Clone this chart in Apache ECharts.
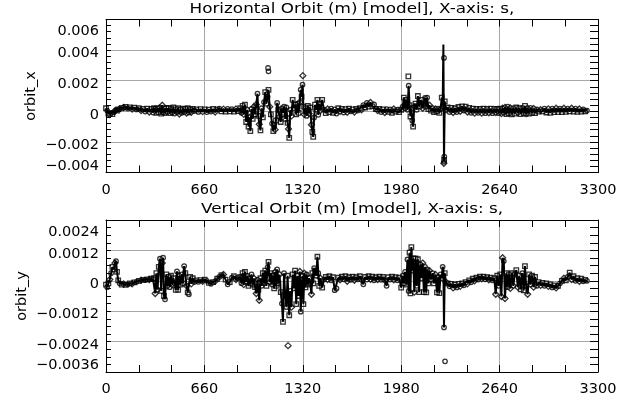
<!DOCTYPE html>
<html><head><meta charset="utf-8">
<script src="https://cdn.jsdelivr.net/npm/echarts@6/dist/echarts.min.js"></script>
<style>html,body{margin:0;padding:0;background:#fff}#c{width:640px;height:409px}</style>
</head><body><div id="c"></div>
<script>
// ---------- data (orbit values in mm, converted to m for plotting) ----------
const sPos = [
0,8,16,25,34,43,52,60,67,74,
82,92,105,118,132,146,160,175,190,205,
220,235,250,263,276,290,303,316,322,
330,338,346,354,362,370,377,383,389,396,
404,412,420,428,436,444,452,460,468,476,
484,492,500,508,516,524,532,540,548,556,
564,572,582,592,
606,620,634,648,662,676,690,704,718,732,
746,760,774,788,802,816,830,844,858,872,886,
900,908,916,924,932,940,948,956,962,968,
976,984,992,1000,1008,1016,1022,1028,1036,1044,
1052,1060,1068,1076,1084,1090,1098,1106,1114,1122,
1128,1134,1140,1148,1156,1164,1172,1180,1187,1194,
1202,1210,1218,1224,1229,1236,1244,1252,1260,1268,
1276,1284,1292,1300,1306,1312,1318,1324,1330,1338,
1346,1354,1362,1370,1378,1384,1390,1396,1402,1410,
1418,1424,1430,1438,
1450,1462,1474,1486,1498,1510,1522,1534,1546,1558,
1570,1582,1594,1606,1618,1630,1642,1654,1666,1678,
1690,1702,1714,1726,1738,1750,1762,1774,1786,1798,
1810,1822,1834,1846,1858,1870,1882,1894,1906,1918,
1930,1942,1954,1966,
1980,1990,1998,2006,2014,2022,2030,2036,2042,2048,
2054,2060,2068,2076,2084,2092,2100,2108,2116,2124,
2132,2140,2148,2154,2162,2170,2180,2190,2200,2210,
2220,2228,2236,2244,2252,2258,2263,2267,2272,2280,
2292,2304,2316,2328,2340,2352,2364,2376,2388,2400,
2412,2424,2436,2448,2460,2472,2484,2496,2508,2520,
2532,2544,2556,2568,2580,2592,2604,2614,2624,2634,
2644,2652,2660,2668,2676,2686,2694,2702,2712,2722,
2732,2742,2752,2762,2772,2782,2792,2802,2810,2818,
2828,2838,2848,2858,2868,2878,2890,2902,2915,2928,
2941,2954,2967,2980,2993,3006,3019,3032,3045,3058,
3071,3084,3097,3110,3123,3136,3149,3162,3175,3188,
3201,3214,3226
];
const orbitXmm = [
0.20,0.05,-0.15,-0.22,-0.10,-0.18,-0.05,0.02,0.08,0.05,
0.12,0.15,0.22,0.25,0.28,0.18,0.26,0.15,0.24,0.12,
0.20,0.05,0.15,-0.02,0.18,-0.05,0.15,-0.08,0.20,
0.15,-0.10,0.20,-0.05,0.25,-0.15,0.40,-0.08,0.18,-0.12,
0.20,-0.05,0.22,-0.12,0.15,-0.08,0.25,-0.15,0.12,-0.05,
0.20,-0.18,0.10,-0.10,0.18,-0.05,0.15,-0.12,0.20,-0.08,
0.12,-0.06,0.15,0.02,
0.12,-0.04,0.14,-0.02,0.12,-0.05,0.10,-0.02,0.15,-0.05,
0.12,0.18,0.00,0.14,-0.02,0.16,0.00,0.14,-0.02,0.15,0.02,
0.20,-0.10,0.35,-0.20,0.43,-0.70,0.10,-1.00,-0.40,-1.30,
0.15,-0.50,0.30,-0.20,0.45,1.15,-0.30,-0.85,-1.25,0.20,
-0.40,0.60,1.25,0.50,0.95,1.40,0.30,-0.20,-0.80,-1.30,
-0.90,-1.20,-0.60,0.55,0.10,-0.36,-0.70,0.20,-0.10,0.30,
-0.50,0.25,-0.75,-1.15,-1.74,0.10,-0.30,0.75,0.20,0.43,
-0.20,0.50,-0.10,0.60,1.41,0.95,1.74,0.30,-0.20,0.20,
-0.30,0.35,-0.15,0.25,-0.88,-1.34,-1.67,-0.40,0.43,0.10,
0.75,-0.23,0.50,0.05,
0.75,0.10,-0.12,0.15,-0.05,0.18,-0.10,0.12,-0.15,0.20,
0.00,0.16,-0.08,0.14,-0.06,0.18,0.00,0.12,-0.05,0.15,
0.05,0.20,0.10,0.40,0.25,0.55,0.30,0.58,0.32,0.45,
0.15,0.05,0.15,-0.05,0.12,-0.08,0.14,-0.04,0.12,-0.10,
0.15,-0.02,0.10,-0.05,
0.10,0.30,0.89,0.20,0.75,0.10,1.67,0.40,-0.34,0.20,
-0.60,-1.00,0.30,0.50,0.10,1.00,0.30,0.55,0.75,0.20,
0.50,0.87,0.30,0.90,0.15,0.40,0.05,0.20,-0.05,0.15,
0.00,0.18,-0.10,0.15,0.90,0.30,4.36,-3.29,0.65,0.10,
0.25,-0.05,0.22,-0.08,0.20,-0.05,0.28,0.00,0.32,0.05,
0.30,-0.05,0.22,-0.10,0.18,-0.12,0.15,-0.10,0.15,-0.12,
0.18,-0.12,0.15,-0.10,0.18,-0.12,0.15,-0.08,0.15,-0.12,
0.18,-0.15,0.20,-0.10,0.25,-0.18,0.31,-0.12,0.22,-0.20,
0.20,-0.15,0.25,-0.10,0.20,-0.18,0.22,-0.12,0.36,-0.20,
0.20,-0.15,0.22,-0.10,0.18,-0.12,0.12,-0.02,0.10,0.00,
0.18,-0.08,0.16,-0.10,0.18,-0.06,0.20,-0.05,0.18,-0.05,
0.20,-0.04,0.18,0.00,0.20,-0.02,0.18,-0.04,0.15,-0.02,
0.12,0.00,0.05
];
const orbitYmm = [
-0.15,-0.25,-0.10,0.05,0.30,0.55,0.45,0.70,0.78,0.35,
0.02,-0.10,-0.15,-0.12,-0.16,-0.14,-0.10,-0.12,-0.06,-0.04,
0.00,0.02,0.04,0.03,0.06,0.05,0.08,0.06,0.10,
-0.50,0.30,-0.35,0.55,0.87,-0.40,0.70,0.91,-0.60,-0.73,
0.25,-0.20,0.15,-0.25,0.20,-0.15,0.10,-0.10,-0.36,0.37,
-0.36,0.20,-0.15,0.25,-0.10,0.58,0.30,-0.20,-0.46,-0.53,
0.15,-0.12,0.10,-0.05,
0.02,-0.04,0.03,-0.02,0.05,0.00,-0.08,-0.12,-0.05,-0.02,
0.08,0.15,0.22,0.25,0.05,-0.14,-0.05,0.12,0.18,0.05,0.10,
0.15,-0.10,0.30,-0.15,0.35,-0.05,0.20,-0.20,0.10,-0.10,
0.25,-0.15,0.10,-0.25,-0.50,0.05,-0.35,-0.77,0.10,-0.20,
0.30,-0.10,0.40,-0.20,0.53,0.75,-0.05,0.30,-0.15,0.20,
-0.30,0.35,-0.20,0.45,-0.10,0.25,-0.45,-0.90,-1.62,0.30,
-0.55,-1.04,0.20,-0.80,-1.36,-0.40,-1.04,0.25,-0.30,0.40,
-0.92,0.20,-0.60,0.37,-1.22,-0.20,0.20,-0.92,0.30,-0.26,
0.25,-0.15,0.10,-0.10,-0.53,0.30,-0.10,0.50,0.40,0.20,
0.95,0.30,-0.20,0.10,
-0.27,0.05,0.15,0.05,0.18,0.02,0.14,-0.37,-0.30,0.12,
0.04,0.16,0.06,0.18,-0.02,0.14,0.04,0.16,0.02,0.14,
0.06,0.18,0.04,-0.14,0.15,0.05,0.18,0.06,0.16,0.02,
0.14,0.05,0.16,0.04,0.15,0.02,-0.20,0.14,0.05,0.16,
0.04,0.14,0.02,0.12,
-0.27,0.20,-0.10,0.35,-0.15,0.84,-0.40,1.11,-0.50,1.33,
0.40,0.88,-0.45,0.88,-0.20,0.85,-0.45,0.65,0.10,0.70,
-0.45,0.55,-0.46,0.45,-0.10,0.40,0.05,0.30,-0.10,0.25,
-0.46,0.15,-0.49,0.25,0.10,0.55,0.45,-1.84,0.30,-0.05,
-0.10,-0.22,-0.12,-0.28,-0.15,-0.26,-0.12,-0.22,-0.10,-0.18,
-0.05,-0.12,0.02,-0.06,0.08,0.00,0.12,0.05,0.16,0.08,
0.16,0.06,0.14,0.04,0.12,0.02,0.10,-0.53,0.20,-0.20,
0.25,-0.62,0.91,0.78,-0.70,0.30,-0.25,0.25,-0.30,0.30,
-0.20,0.25,0.42,-0.25,0.20,-0.34,0.30,-0.38,0.58,-0.20,
-0.53,0.25,-0.15,0.20,-0.25,0.15,-0.20,-0.05,-0.18,-0.08,
-0.20,-0.10,-0.22,-0.14,-0.26,-0.18,-0.28,-0.20,-0.10,0.00,
0.10,0.02,0.15,0.32,0.05,0.18,0.00,0.10,-0.02,0.08,
-0.02,0.04,0.00
];
// element marker type per point: r = square, c = circle, d = diamond, n = none
const elemType = [
"rcrdcrcdcr","rcrdrcrdrc","rdrcrdrcr","drcrcrdcrc","rdrcrdrcrc","rdrcrcrdrc","rdrc",
"rcrdrcrcrd","rcrdrcrcrdr",
"rcrdrrcrdr","crdrdcrdrc","rcrrcrdrcr","rdrcrdrcrc","rcrdrcdrcr","rcrdcrcrdr","crdrdrrcrc","rcrd",
"rcrdrcrccr","drcrdrcrdr","crdcrcrdrc","rdrcrdcrcr","drcr",
"rcrcrccrrr","crdrcrrcrd","rcrcrdrcrd","rcrcrcncrd",
"rcrdrcrdrc","rdrcrdrcrd","rcrdrcrdrc","rddcdrcrdr","crrdrrcrrc","drcrdrcrdr","crdrcrdrcr","drcrdrcrdr","crc"
].join('');
// isolated markers (not on the line)
const looseXs = [1087,1090,1320,2028,2267,2269,2268,2266];
const looseXmm = [2.83,2.61,2.33,2.28,3.49,-2.96,-3.18,-3.40];
const looseXt = "ccdrccrd";
const looseYs = [1221,2274];
const looseYmm = [-2.56,-3.18];
const looseYt = "dc";
// axis tick labels
const sTickLabels = ["0","660","1320","1980","2640","3300"];
const xTickLabels = ["\u22120.004","\u22120.002","0","0.002","0.004","0.006"];
const yTickLabels = ["\u22120.0036","\u22120.0024","\u22120.0012","0","0.0012","0.0024"];
const titles = ["Horizontal Orbit (m) [model], X-axis: s,", "Vertical Orbit (m) [model], X-axis: s,"];
const yNames = ["orbit_x","orbit_y"];

// ---------- build ----------
const FONT = '"DejaVu Sans", "Liberation Sans", sans-serif';
const N = Math.min(sPos.length, orbitXmm.length, orbitYmm.length, elemType.length);
const SYM = {r:'rect', c:'circle', d:'diamond'};
const SIZE = {r:4.5, c:4.5, d:6};
function lineData(v){ const o=[]; for(let i=0;i<N;i++) o.push([sPos[i], v[i]/1000]); return o; }
function markData(s, v, t){ const o=[]; for(let i=0;i<Math.min(s.length,v.length,t.length);i++){ const k=t[i]; if(!SYM[k]) continue; o.push({value:[s[i], v[i]/1000], symbol:SYM[k], symbolSize:SIZE[k]}); } return o; }

const black = '#000';
const gridColor = '#a8a8a8';
function xAxesFor(g){
  const base = {type:'value', gridIndex:g, min:0, max:3300, interval:660,
    axisLine:{show:true, onZero:false, lineStyle:{color:black, width:1}},
    axisTick:{show:true, inside:true, length:7, lineStyle:{color:black, width:1}},
    minorTick:{show:true, splitNumber:3, length:7, lineStyle:{color:black, width:1}},
    minorSplitLine:{show:false}};
  return [
    Object.assign({}, base, {position:'bottom',
      splitLine:{show:true, lineStyle:{color:gridColor, width:1}},
      axisLabel:{show:true, margin:10, fontSize:14.5, color:black, fontFamily:FONT, showMinLabel:true, showMaxLabel:true,
        formatter:(val, idx)=>sTickLabels[idx] ?? String(val)}}),
    Object.assign({}, base, {position:'top', splitLine:{show:false}, axisLabel:{show:false}})
  ];
}
function yAxesFor(g, min, max, interval, labels, minorSplit, name, nameGap){
  const base = {type:'value', gridIndex:g, min:min, max:max, interval:interval,
    axisLine:{show:true, onZero:false, lineStyle:{color:black, width:1}},
    minorSplitLine:{show:false}};
  const rs = {fontSize:14.5, color:black, fontFamily:FONT};
  return [
    Object.assign({}, base, {position:'left',
      axisTick:{show:true, inside:true, length:5, lineStyle:{color:black}},
      minorTick:{show:true, splitNumber:minorSplit, length:5, lineStyle:{color:black}},
      splitLine:{show:true, lineStyle:{color:gridColor, width:1}},
      axisLabel:{show:true, margin:7, fontSize:14.5, color:black, fontFamily:FONT, showMinLabel:true, showMaxLabel:true,
        formatter:(val, idx)=>{ const t = labels[idx] ?? String(val); if(idx===labels.length-1) return '{t|'+t+'}'; if(idx===0) return '{b|'+t+'}'; return '{m|'+t+'}'; },
        rich:{ t:Object.assign({padding:[24,0,0,0]}, rs), b:Object.assign({padding:[0,0,13,0]}, rs), m:Object.assign({padding:[7,0,0,0]}, rs) }},
      name:name, nameLocation:'middle', nameGap:nameGap, nameRotate:90, nameMoveOverlap:false,
      nameTextStyle:{fontSize:14.5, color:black, fontFamily:FONT}}),
    Object.assign({}, base, {position:'right',
      axisTick:{show:true, inside:true, length:8, lineStyle:{color:black}},
      minorTick:{show:true, splitNumber:minorSplit, length:8, lineStyle:{color:black}},
      splitLine:{show:false}, axisLabel:{show:false}})
  ];
}
const markStyle = {color:'rgba(0,0,0,0)', borderColor:black, borderWidth:1.3};
function seriesFor(xi, yi, vals, ls, lv, lt){
  return [
    {type:'line', xAxisIndex:xi, yAxisIndex:yi, data:lineData(vals), showSymbol:false, symbol:'none',
      lineStyle:{color:black, width:2}, animation:false, z:2},
    {type:'scatter', xAxisIndex:xi, yAxisIndex:yi, data:markData(sPos.slice(0,N), vals, elemType), itemStyle:markStyle, animation:false, z:3},
    {type:'scatter', xAxisIndex:xi, yAxisIndex:yi, data:markData(ls, lv, lt), itemStyle:markStyle, animation:false, z:3}
  ];
}

const chart = echarts.init(document.getElementById('c'), null, {renderer:'canvas'});
chart.setOption({
  backgroundColor:'#fff',
  animation:false,
  textStyle:{fontFamily:FONT},
  grid:[{left:106, top:19.5, width:492, height:153}, {left:106, top:220, width:492, height:152}],
  xAxis:[...xAxesFor(0), ...xAxesFor(1)],
  yAxis:[...yAxesFor(0, -0.004, 0.006, 0.002, xTickLabels, 5, yNames[0], 67),
         ...yAxesFor(1, -0.0036, 0.0024, 0.0012, yTickLabels, 4, yNames[1], 76)],
  series:[...seriesFor(0, 0, orbitXmm, looseXs, looseXmm, looseXt),
          ...seriesFor(2, 2, orbitYmm, looseYs, looseYmm, looseYt)],
  graphic:[
    {type:'text', x:352, y:9, scaleX:1.2, style:{text:titles[0], fill:black, font:'14px '+FONT, align:'center', verticalAlign:'middle'}},
    {type:'text', x:352, y:209, scaleX:1.2, style:{text:titles[1], fill:black, font:'14px '+FONT, align:'center', verticalAlign:'middle'}}
  ]
});
</script></body></html>
